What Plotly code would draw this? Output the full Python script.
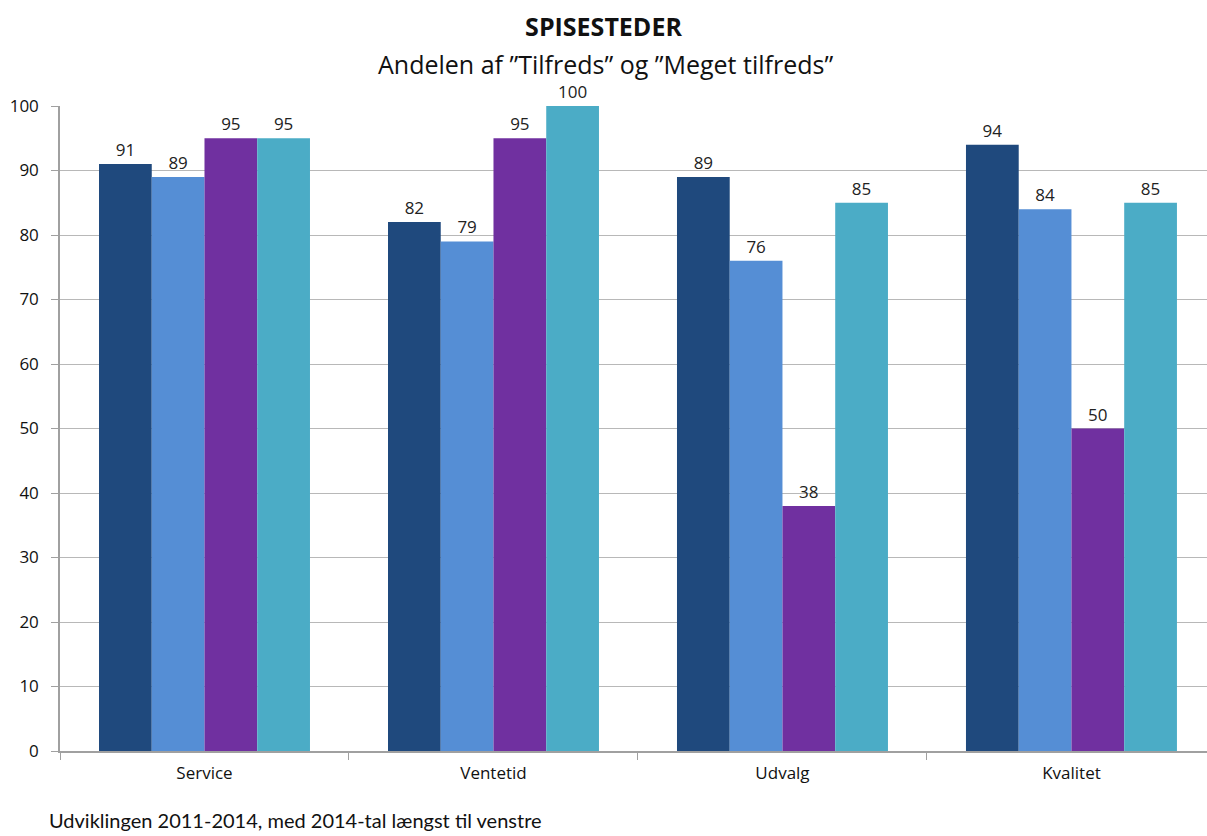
import plotly.graph_objects as go

categories = ["Service", "Ventetid", "Udvalg", "Kvalitet"]
series_names = ["2014", "2013", "2012", "2011"]
v2014 = [91, 82, 89, 94]
v2013 = [89, 79, 76, 84]
v2012 = [95, 95, 38, 50]
v2011 = [95, 100, 85, 85]
colors = ["#1F497D", "#558ED5", "#7030A0", "#4BACC6"]

fig = go.Figure()
for name, vals, col in zip(series_names, [v2014, v2013, v2012, v2011], colors):
    fig.add_trace(go.Bar(
        x=categories, y=vals, name=name, marker=dict(color=col, line=dict(width=0)),
        text=[str(v) for v in vals], textposition="outside", cliponaxis=False,
        textfont=dict(family="Open Sans", size=17, color="#222222"),
    ))

W, H = 1207, 836
L, T, B = 60, 106, 85
pw = W - L
fig.update_layout(
    width=W, height=H,
    barmode="group", bargap=0.27, bargroupgap=0,
    showlegend=False,
    plot_bgcolor="white", paper_bgcolor="white",
    margin=dict(l=L, r=0, t=T, b=B, pad=0),
    title=dict(text="<b>SPISESTEDER</b>", x=0.5, xanchor="center", y=1 - 27 / H, yanchor="middle",
               font=dict(family="Open Sans", size=25, color="#111111")),
    annotations=[
        dict(text="Andelen af ”Tilfreds” og ”Meget tilfreds”", xref="paper", yref="paper",
             x=(605 - L) / pw, y=1.0, yshift=T - 64, xanchor="center", yanchor="middle",
             showarrow=False, font=dict(family="Open Sans", size=25, color="#111111")),
        dict(text="Udviklingen 2011-2014, med 2014-tal længst til venstre", xref="paper", yref="paper",
             x=(47 - L) / pw, y=0, yshift=-(820 - (H - B)), xanchor="left", yanchor="middle",
             showarrow=False, font=dict(family="Lato", size=20, color="#111111")),
    ],
    xaxis=dict(range=[-0.5, 3.469], showline=True, linecolor="#A0A0A0", linewidth=1.5,
               ticks="outside", tickson="boundaries", ticklen=7, tickcolor="#A0A0A0",
               tickfont=dict(family="Open Sans", size=17, color="#111111"), showgrid=False,
               ticklabelstandoff=6),
    yaxis=dict(range=[0, 100], dtick=10, showline=True, linecolor="#A0A0A0", linewidth=1.5,
               ticks="outside", ticklen=7, tickcolor="#A0A0A0",
               gridcolor="#B8B8B8", gridwidth=1, zeroline=False, ticklabelstandoff=9,
               tickfont=dict(family="Open Sans", size=17, color="#111111")),
)

fig.write_html("out.html", config={"displayModeBar": False},
               post_script="document.body.style.margin='0';document.body.style.overflow='hidden';")
